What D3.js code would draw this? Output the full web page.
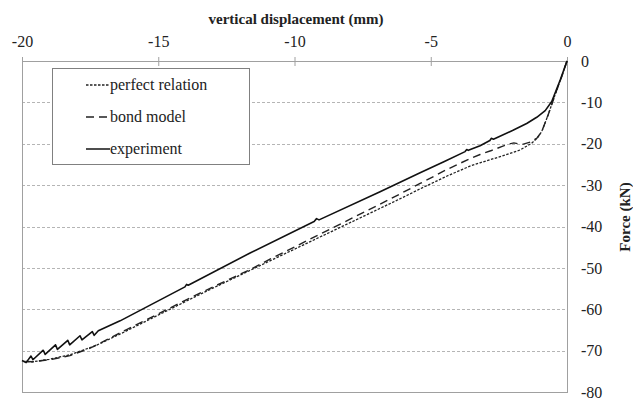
<!DOCTYPE html>
<html>
<head>
<meta charset="utf-8">
<script src="https://cdn.jsdelivr.net/npm/d3@7"></script>
<style>
  html, body { margin: 0; padding: 0; background: #fff; }
  svg { display: block; }
</style>
</head>
<body>
<svg id="chart" width="633" height="403"></svg>
<script>
// ---- data ----
const xTicks = [-20, -15, -10, -5, 0];
const yTicks = [0, -10, -20, -30, -40, -50, -60, -70, -80];

const experimentD = [0, -0.25, -0.56, -0.8, -1.11, -1.48, -2.0, -2.7, -2.78, -2.83, -3.19, -3.62, -3.68, -3.74, -4.5, -5.39, -6.86, -9.1, -9.19, -9.28, -11.63, -13.9, -13.96, -14.02, -16.4, -17.2, -17.35, -17.42, -17.8, -17.87, -18.25, -18.32, -18.7, -18.77, -19.15, -19.22, -19.6, -19.67, -19.85, -20.0];
const experimentF = [0, -4.6, -9.8, -12.0, -13.6, -15.1, -16.8, -18.9, -18.7, -19.2, -20.5, -21.6, -21.4, -21.9, -24.3, -27.0, -31.6, -38.4, -38.1, -38.8, -46.4, -54.2, -54.0, -54.6, -62.8, -65.2, -66.3, -65.4, -67.4, -66.4, -68.6, -67.5, -69.7, -68.6, -70.9, -69.9, -72.2, -71.3, -72.9, -72.4];

const bondD = [0, -0.2, -0.44, -0.69, -0.93, -1.1, -1.3, -1.6, -1.8, -1.95, -2.15, -2.4, -2.8, -3.19, -3.56, -4.4, -5.39, -6.5, -6.98, -10.9, -11.63, -13.47, -16.16, -16.9, -17.5, -18.24, -18.9, -19.6, -20.0];
const bondF = [0, -3.9, -8.2, -13.0, -17.1, -18.6, -19.5, -20.1, -20.0, -19.8, -20.1, -20.7, -21.7, -22.6, -23.6, -26.2, -29.6, -33.4, -35.0, -47.9, -50.4, -56.1, -64.9, -67.4, -69.4, -71.2, -72.1, -72.7, -72.6];

const perfectD = [0, -0.2, -0.44, -0.69, -0.93, -1.1, -1.3, -1.72, -2.4, -3.19, -3.56, -4.4, -5.39, -6.0, -6.98, -10.9, -13.47, -16.34, -17.3, -18.24, -19.0, -19.6, -20.0];
const perfectF = [0, -3.9, -8.2, -13.0, -17.1, -18.7, -19.9, -21.5, -23.0, -24.6, -25.4, -27.8, -30.9, -32.9, -36.0, -48.3, -56.4, -65.8, -68.8, -71.0, -72.1, -72.7, -72.6];

const seriesNames = ["perfect relation", "bond model", "experiment"];

// ---- layout ----
const FONT = '"Liberation Serif", "Times New Roman", Tinos, serif';
const svg = d3.select("#chart");
const mLeft = 22, mRight = 567, mTop = 61, mBottom = 392;
const x = d3.scaleLinear().domain([-20, 0]).range([mLeft, mRight]);
const y = d3.scaleLinear().domain([0, -80]).range([mTop, mBottom]);

// gridlines
svg.append("g").selectAll("line")
  .data(yTicks.filter(v => v !== 0 && v !== -80))
  .join("line")
  .attr("x1", mLeft).attr("x2", mRight)
  .attr("y1", d => Math.round(y(d)) + 0.5).attr("y2", d => Math.round(y(d)) + 0.5)
  .attr("stroke", "#b5b5b5").attr("stroke-width", 1)
  .attr("stroke-dasharray", "3,2");

// plot border
svg.append("rect")
  .attr("x", mLeft + 0.5).attr("y", mTop + 0.5)
  .attr("width", mRight - mLeft).attr("height", mBottom - mTop)
  .attr("fill", "none").attr("stroke", "#a0a0a0").attr("stroke-width", 1);

// top axis
const xAxis = d3.axisTop(x).tickValues(xTicks).tickSizeInner(4).tickSizeOuter(0).tickPadding(10)
  .tickFormat(d => d === 0 ? "0" : "-" + Math.abs(d));
const gx = svg.append("g").attr("transform", `translate(0,${mTop})`).call(xAxis);
gx.select(".domain").remove();
gx.selectAll(".tick line").attr("stroke", "#a0a0a0").attr("y1", 5).attr("y2", -4);
gx.selectAll(".tick text").style("font-family", FONT).style("font-size", "16px").attr("fill", "#222");

// right axis
const yAxis = d3.axisRight(y).tickValues(yTicks).tickSize(0).tickPadding(14)
  .tickFormat(d => d === 0 ? "0" : "-" + Math.abs(d));
const gy = svg.append("g").attr("transform", `translate(${mRight},0)`).call(yAxis);
gy.select(".domain").remove();
gy.selectAll(".tick text").style("font-family", FONT).style("font-size", "16px").attr("fill", "#222");

// axis titles
svg.append("text").attr("x", 296).attr("y", 24).attr("text-anchor", "middle")
  .style("font-family", FONT).style("font-size", "15px").style("font-weight", "bold")
  .attr("fill", "#222").text("vertical displacement (mm)");
svg.append("text").attr("transform", "translate(630,217) rotate(-90)").attr("text-anchor", "middle")
  .style("font-family", FONT).style("font-size", "15px").style("font-weight", "bold")
  .attr("fill", "#222").text("Force (kN)");

// lines
const line = d3.line().x(d => x(d[0])).y(d => y(d[1])).curve(d3.curveLinear);
const mk = (ds, fs) => ds.map((d, i) => [d, fs[i]]);

svg.append("path").datum(mk(perfectD, perfectF)).attr("d", line)
  .attr("fill", "none").attr("stroke", "#222").attr("stroke-width", 1.3).attr("stroke-dasharray", "2.5,1.5");
svg.append("path").datum(mk(bondD, bondF)).attr("d", line)
  .attr("fill", "none").attr("stroke", "#222").attr("stroke-width", 1.4).attr("stroke-dasharray", "8,5");
svg.append("path").datum(mk(experimentD, experimentF)).attr("d", line)
  .attr("fill", "none").attr("stroke", "#111").attr("stroke-width", 1.6).attr("stroke-linejoin", "round");

// legend
const lg = svg.append("g");
lg.append("rect").attr("x", 52.5).attr("y", 68.5).attr("width", 197).attr("height", 96)
  .attr("fill", "#fff").attr("stroke", "#808080").attr("stroke-width", 1);
const dashes = ["2.5,1.5", "8,5", null];
const widths = [1.3, 1.4, 1.6];
seriesNames.forEach((name, i) => {
  const yy = 85 + i * 32;
  const l = lg.append("line").attr("x1", 86).attr("x2", 110).attr("y1", yy).attr("y2", yy)
    .attr("stroke", "#222").attr("stroke-width", widths[i]);
  if (dashes[i]) l.attr("stroke-dasharray", dashes[i]);
  lg.append("text").attr("x", 110).attr("y", yy + 5)
    .style("font-family", FONT).style("font-size", "16px").attr("fill", "#222").text(name);
});
</script>
</body>
</html>
